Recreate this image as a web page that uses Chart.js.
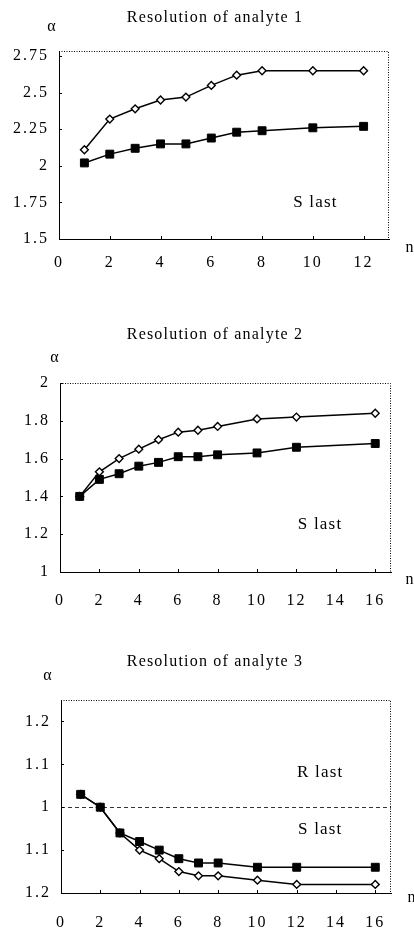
<!DOCTYPE html>
<html lang="en">
<head>
<meta charset="UTF-8">
<meta name="viewport" content="width=device-width, initial-scale=1.0">
<title>Resolution of analytes</title>
<script src="https://cdn.jsdelivr.net/npm/chart.js@4.4.1/dist/chart.umd.min.js"></script>
<style>
    body { margin: 0; background: #fff; width: 414px; height: 932px; position: relative; overflow: hidden; }
    .box { position: absolute; left: 0; width: 414px; }
</style>
</head>
<body>
<div class="box" style="top:0;height:300px"><canvas id="c1"></canvas></div>
<div class="box" style="top:300px;height:310px"><canvas id="c2"></canvas></div>
<div class="box" style="top:610px;height:322px"><canvas id="c3"></canvas></div>
<script>
// Analyte 1
const n1 = [1, 2, 3, 4, 5, 6, 7, 8, 10, 12];
const open1 = [2.11, 2.32, 2.39, 2.45, 2.47, 2.55, 2.62, 2.65, 2.65, 2.65];
const filled1 = [2.02, 2.08, 2.12, 2.15, 2.15, 2.19, 2.23, 2.24, 2.26, 2.27];
const xTicks1 = [0, 2, 4, 6, 8, 10, 12];
const yTicks1 = [1.5, 1.75, 2, 2.25, 2.5, 2.75];

// Analyte 2
const n2 = [1, 2, 3, 4, 5, 6, 7, 8, 10, 12, 16];
const open2 = [1.40, 1.53, 1.60, 1.65, 1.70, 1.74, 1.75, 1.77, 1.81, 1.82, 1.84];
const filled2 = [1.40, 1.49, 1.52, 1.56, 1.58, 1.61, 1.61, 1.62, 1.63, 1.66, 1.68];
const xTicks2 = [0, 2, 4, 6, 8, 10, 12, 14, 16];
const yTicks2 = [1, 1.2, 1.4, 1.6, 1.8, 2];

// Analyte 3 (below 1 the axis is labelled as the inverse ratio)
const n3 = [1, 2, 3, 4, 5, 6, 7, 8, 10, 12, 16];
const open3 = [1.03, 1.00, 0.94, 0.90, 0.88, 0.85, 0.84, 0.84, 0.83, 0.82, 0.82];
const filled3 = [1.03, 1.00, 0.94, 0.92, 0.90, 0.88, 0.87, 0.87, 0.86, 0.86, 0.86];
const xTicks3 = [0, 2, 4, 6, 8, 10, 12, 14, 16];
const yTicks3 = [0.8, 0.9, 1, 1.1, 1.2];
const yLabels3 = ['1.2', '1.1', '1', '1.1', '1.2'];

const SERIF = '"Liberation Serif", "Times New Roman", serif';

const deco = {
    id: 'deco',
    beforeDraw(chart) {
        // scanned figure has wide, loose lettering
        chart.ctx.letterSpacing = '2px';
    },
    afterDraw(chart, args, o) {
        const { ctx, chartArea: a, scales: { x, y } } = chart;
        ctx.save();
        ctx.strokeStyle = '#000';
        ctx.lineWidth = 1;
        // dotted top and right frame
        ctx.setLineDash([1, 1.5]);
        ctx.beginPath();
        ctx.moveTo(a.left, a.top + 0.5);
        ctx.lineTo(a.right - 0.5, a.top + 0.5);
        ctx.lineTo(a.right - 0.5, a.bottom);
        ctx.stroke();
        ctx.setLineDash([]);
        // inward tick marks
        ctx.beginPath();
        x.ticks.forEach(t => {
            const px = Math.round(x.getPixelForValue(t.value)) + 0.5;
            ctx.moveTo(px, a.bottom);
            ctx.lineTo(px, a.bottom - 3);
        });
        y.ticks.forEach(t => {
            const py = Math.round(y.getPixelForValue(t.value)) + 0.5;
            ctx.moveTo(a.left, py);
            ctx.lineTo(a.left + 3, py);
        });
        ctx.stroke();
        if (o.refLine != null) {
            const py = Math.round(y.getPixelForValue(o.refLine)) + 0.5;
            ctx.setLineDash([4, 3]);
            ctx.lineWidth = 0.8;
            ctx.beginPath();
            ctx.moveTo(a.left, py);
            ctx.lineTo(a.right, py);
            ctx.stroke();
            ctx.setLineDash([]);
        }
        ctx.fillStyle = '#000';
        ctx.textAlign = 'center';
        ctx.textBaseline = 'middle';
        ctx.letterSpacing = '1.2px';
        ctx.font = '16px ' + SERIF;
        ctx.fillText(o.title, 215, o.titleY);
        ctx.fillText('\u03b1', o.alpha[0], o.alpha[1]);
        ctx.fillText('n', o.nPos[0], o.nPos[1]);
        ctx.font = '17px ' + SERIF;
        o.notes.forEach(nt => {
            ctx.fillText(nt.text, x.getPixelForValue(nt.x), y.getPixelForValue(nt.y));
        });
        ctx.restore();
    }
};

function makeChart(id, cfg) {
    new Chart(document.getElementById(id), {
        type: 'line',
        data: {
            datasets: [
                {
                    label: 'filled',
                    data: cfg.n.map((v, i) => ({ x: v, y: cfg.filled[i] })),
                    borderColor: '#000',
                    borderWidth: 1.5,
                    pointStyle: 'rect',
                    pointRadius: 5.6,
                    pointBackgroundColor: '#000',
                    pointBorderColor: '#000',
                    pointBorderWidth: 1,
                    tension: 0
                },
                {
                    label: 'open',
                    data: cfg.n.map((v, i) => ({ x: v, y: cfg.open[i] })),
                    borderColor: '#000',
                    borderWidth: 1.5,
                    pointStyle: 'rectRot',
                    pointRadius: 3.9,
                    pointBackgroundColor: '#fff',
                    pointBorderColor: '#000',
                    pointBorderWidth: 1.4,
                    tension: 0
                }
            ]
        },
        options: {
            responsive: true,
            maintainAspectRatio: false,
            animation: false,
            layout: { padding: { top: cfg.top, right: cfg.right, left: 0, bottom: 0 } },
            plugins: {
                legend: { display: false },
                tooltip: { enabled: false },
                deco: cfg.deco
            },
            scales: {
                x: {
                    type: 'linear',
                    min: 0,
                    max: cfg.xMax,
                    afterBuildTicks: s => { s.ticks = cfg.xTicks.map(v => ({ value: v })); },
                    afterFit: s => { s.height = cfg.xHeight; },
                    grid: { display: false, drawTicks: false },
                    border: { display: true, color: '#000', width: 1 },
                    ticks: { color: '#000', padding: cfg.xPad, font: { family: SERIF, size: 16 } }
                },
                y: {
                    min: cfg.yMin,
                    max: cfg.yMax,
                    afterBuildTicks: s => { s.ticks = cfg.yTicks.map(v => ({ value: v })); },
                    afterFit: s => { s.width = cfg.yWidth; },
                    grid: { display: false, drawTicks: false },
                    border: { display: true, color: '#000', width: 1 },
                    ticks: {
                        color: '#000',
                        padding: 10,
                        font: { family: SERIF, size: 16 },
                        callback: cfg.yLabel || (v => String(v))
                    }
                }
            }
        },
        plugins: [deco]
    });
}

makeChart('c1', {
    n: n1, open: open1, filled: filled1, xTicks: xTicks1, yTicks: yTicks1,
    xMax: 13, yMin: 1.5, yMax: 2.785, top: 51, right: 25, yWidth: 59, xHeight: 61, xPad: 14.5,
    deco: {
        title: 'Resolution of analyte 1', titleY: 18, alpha: [52, 27], nPos: [410, 248],
        notes: [{ text: 'S last', x: 10.1, y: 1.75 }]
    }
});

makeChart('c2', {
    n: n2, open: open2, filled: filled2, xTicks: xTicks2, yTicks: yTicks2,
    xMax: 16.8, yMin: 1, yMax: 2, top: 83, right: 23, yWidth: 60, xHeight: 38, xPad: 19,
    deco: {
        title: 'Resolution of analyte 2', titleY: 35, alpha: [55, 58], nPos: [410, 280],
        notes: [{ text: 'S last', x: 13.2, y: 1.25 }]
    }
});

makeChart('c3', {
    n: n3, open: open3, filled: filled3, xTicks: xTicks3, yTicks: yTicks3,
    xMax: 16.8, yMin: 0.8, yMax: 1.25, top: 90, right: 23, yWidth: 61, xHeight: 39, xPad: 20,
    yLabel: v => yLabels3[yTicks3.indexOf(v)],
    deco: {
        title: 'Resolution of analyte 3', titleY: 52, alpha: [48, 66], nPos: [412, 288], refLine: 1,
        notes: [{ text: 'R last', x: 13.2, y: 1.08 }, { text: 'S last', x: 13.2, y: 0.947 }]
    }
});
</script>
</body>
</html>
